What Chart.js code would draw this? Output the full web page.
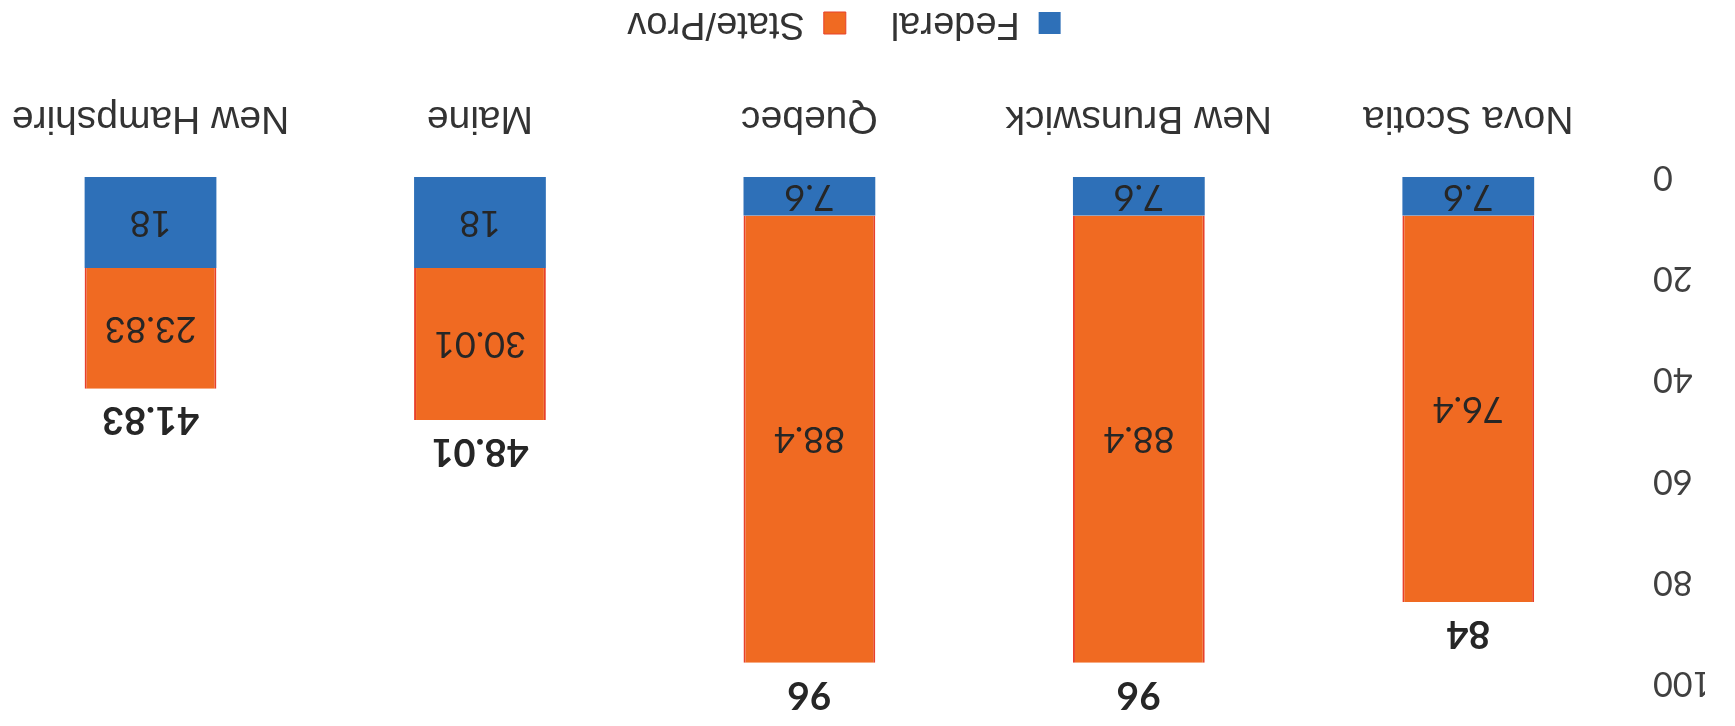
<!DOCTYPE html>
<html>
<head>
<meta charset="utf-8">
<script src="https://cdn.jsdelivr.net/npm/chart.js@4.4.1/dist/chart.umd.min.js"></script>
<style>
  html, body { margin: 0; padding: 0; background: #fff; overflow: hidden; width: 1735px; height: 726px; }
  #wrap {
    position: absolute;
    left: -25px;
    top: -6px;
    width: 1760px;
    height: 732px;
    transform: rotate(180deg);
  }
</style>
</head>
<body>
<div id="wrap"><canvas id="chart" width="1760" height="732"></canvas></div>
<script>
// values
const regions = ['Nova Scotia', 'New Brunswick', 'Quebec', 'Maine', 'New Hampshire'];
const federal = [7.6, 7.6, 7.6, 18, 18];
const stateProv = [76.4, 88.4, 88.4, 30.01, 23.83];
const totals = [84, 96, 96, 48.01, 41.83];
const yTicks = [0, 20, 40, 60, 80, 100];

const numFont = 'Lato, "Liberation Sans", sans-serif';
const textFont = '"Liberation Sans", Arial, sans-serif';

// draws the numbers inside each segment and the total above each bar
const valueLabels = {
    id: 'valueLabels',
    afterDatasetsDraw(chart) {
        const ctx = chart.ctx;
        ctx.save();
        ctx.textAlign = 'center';
        ctx.textBaseline = 'middle';
        ctx.fillStyle = '#262626';
        chart.data.datasets.forEach((ds, i) => {
            const meta = chart.getDatasetMeta(i);
            meta.data.forEach((bar, j) => {
                ctx.font = '36px ' + numFont;
                ctx.fillText(String(ds.data[j]), bar.x, (bar.y + bar.base) / 2);
            });
        });
        const topMeta = chart.getDatasetMeta(chart.data.datasets.length - 1);
        topMeta.data.forEach((bar, j) => {
            ctx.font = 'bold 38px ' + numFont;
            ctx.fillText(String(totals[j]), bar.x, bar.y - 31);
        });
        ctx.restore();
    }
};

new Chart(document.getElementById('chart'), {
    type: 'bar',
    data: {
        labels: regions,
        datasets: [
            {
                label: 'Federal',
                data: federal,
                backgroundColor: '#2e70b8',
                borderWidth: 0,
                barPercentage: 0.8,
                categoryPercentage: 0.5
            },
            {
                label: 'State/Prov',
                data: stateProv,
                backgroundColor: '#f06a22',
                borderColor: '#e8402a',
                borderWidth: { left: 2, right: 2, top: 0, bottom: 0 },
                borderSkipped: false,
                barPercentage: 0.8,
                categoryPercentage: 0.5
            }
        ]
    },
    options: {
        responsive: false,
        animation: false,
        layout: { padding: { top: 43, left: 30, right: 8, bottom: 0 } },
        plugins: {
            legend: {
                position: 'bottom',
                labels: {
                    boxWidth: 22,
                    boxHeight: 22,
                    padding: 45,
                    color: '#333',
                    font: { family: textFont, size: 38 }
                }
            },
            tooltip: { enabled: false }
        },
        scales: {
            x: {
                stacked: true,
                grid: { display: false, drawTicks: false },
                border: { display: false },
                ticks: {
                    padding: 36,
                    color: '#333',
                    font: { family: textFont, size: 39 }
                },
                afterFit(scale) { scale.height = 90; }
            },
            y: {
                stacked: true,
                min: 0,
                max: 100,
                grid: { display: false, drawTicks: false },
                border: { display: false },
                afterBuildTicks(scale) { scale.ticks = yTicks.map(v => ({ value: v })); },
                ticks: {
                    padding: 20,
                    color: '#404040',
                    font: { family: numFont, size: 34 }
                },
                afterFit(scale) { scale.width = 72; }
            }
        }
    },
    plugins: [valueLabels]
});
</script>
</body>
</html>
